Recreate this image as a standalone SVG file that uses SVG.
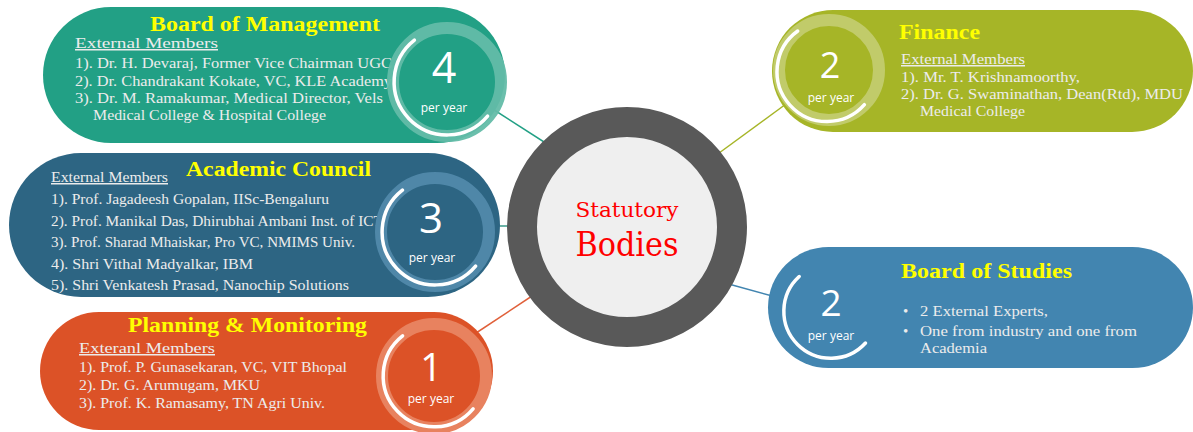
<svg xmlns="http://www.w3.org/2000/svg" width="1193" height="432" viewBox="0 0 1193 432">
<style>
.title{font-family:"Liberation Serif",serif;font-weight:bold;font-size:21px;fill:#ffff00}
.body{font-family:"Liberation Serif",serif;font-size:15px;fill:#ececec}
.ul{text-decoration:underline}
.num{font-family:"Open Sans","Liberation Sans",sans-serif;font-weight:normal;fill:#ffffff;text-anchor:middle}
.py{font-family:"Open Sans","Liberation Sans",sans-serif;font-size:12px;fill:#ffffff;text-anchor:middle}
.arc{fill:none;stroke:#ffffff;stroke-width:3.5;stroke-linecap:round}
.conn{stroke-width:1.5;fill:none}
</style>
<rect width="1193" height="432" fill="#ffffff"/>
<g id="connectors">
<line class="conn" x1="488" y1="106" x2="555" y2="149" stroke="#22a085"/>
<line class="conn" x1="470" y1="226" x2="516" y2="226" stroke="#3a9a8a"/>
<line class="conn" x1="470" y1="337" x2="538" y2="292" stroke="#e0603a"/>
<line class="conn" x1="715" y1="156" x2="786" y2="104" stroke="#a6b527"/>
<line class="conn" x1="725" y1="283" x2="776" y2="297" stroke="#4285b0"/>
</g>
<g id="board-of-management">
<rect x="43" y="7" width="462" height="136" rx="68" fill="#22a085"/>
<text class="title" x="150" y="31" textLength="230" lengthAdjust="spacingAndGlyphs">Board of Management</text>
<text class="body ul" x="75" y="48" font-size="16" textLength="143" lengthAdjust="spacingAndGlyphs">External Members</text>
<text class="body" x="75" y="68" textLength="317" lengthAdjust="spacingAndGlyphs">1). Dr. H. Devaraj, Former Vice Chairman UGC</text>
<text class="body" x="75" y="86" textLength="317" lengthAdjust="spacingAndGlyphs">2). Dr. Chandrakant Kokate, VC, KLE Academy</text>
<text class="body" x="75" y="103" textLength="308" lengthAdjust="spacingAndGlyphs">3). Dr. M. Ramakumar, Medical Director, Vels</text>
<text class="body" x="93" y="120" textLength="233" lengthAdjust="spacingAndGlyphs">Medical College &amp; Hospital College</text>
<circle cx="447" cy="82" r="54" fill="#22a085" stroke="#63bca8" stroke-width="12" stroke-opacity="0.95"/>
<path class="arc" d="M487.6,116.1 A53,53 0 1,1 414.4,40.2"/>
<text class="num" x="444" y="83" font-size="43">4</text>
<text class="py" x="444" y="112">per year</text>
</g>
<g id="academic-council">
<rect x="9" y="153" width="491" height="144" rx="72" fill="#2d6583"/>
<text class="title" x="186" y="176" textLength="185" lengthAdjust="spacingAndGlyphs">Academic Council</text>
<text class="body ul" x="51" y="182" font-size="14" textLength="117" lengthAdjust="spacingAndGlyphs">External Members</text>
<text class="body" x="51" y="204" font-size="14" textLength="278" lengthAdjust="spacingAndGlyphs">1). Prof. Jagadeesh Gopalan, IISc-Bengaluru</text>
<text class="body" x="51" y="226" font-size="14" textLength="332" lengthAdjust="spacingAndGlyphs">2). Prof. Manikal Das, Dhirubhai Ambani Inst. of ICT</text>
<text class="body" x="51" y="247" font-size="14" textLength="304" lengthAdjust="spacingAndGlyphs">3). Prof. Sharad Mhaiskar, Pro VC, NMIMS Univ.</text>
<text class="body" x="51" y="269" font-size="14" textLength="202" lengthAdjust="spacingAndGlyphs">4). Shri Vithal Madyalkar, IBM</text>
<text class="body" x="51" y="290" font-size="14" textLength="298" lengthAdjust="spacingAndGlyphs">5). Shri Venkatesh Prasad, Nanochip Solutions</text>
<circle cx="435" cy="232" r="54" fill="#2d6583" stroke="#4f87a8" stroke-width="12"/>
<path class="arc" d="M475.6,266.1 A53,53 0 1,1 402.4,190.2"/>
<text class="num" x="431" y="233" font-size="42">3</text>
<text class="py" x="432" y="262">per year</text>
</g>
<g id="planning-monitoring">
<rect x="40" y="312" width="453" height="118" rx="59" fill="#dc5227"/>
<text class="title" x="128" y="332" textLength="239" lengthAdjust="spacingAndGlyphs">Planning &amp; Monitoring</text>
<text class="body ul" x="79" y="353" font-size="16" textLength="136" lengthAdjust="spacingAndGlyphs">Exteranl Members</text>
<text class="body" x="79" y="372" font-size="14" textLength="268" lengthAdjust="spacingAndGlyphs">1). Prof. P. Gunasekaran, VC, VIT Bhopal</text>
<text class="body" x="79" y="390" font-size="14" textLength="181" lengthAdjust="spacingAndGlyphs">2). Dr. G. Arumugam, MKU</text>
<text class="body" x="79" y="408" font-size="14" textLength="246" lengthAdjust="spacingAndGlyphs">3). Prof. K. Ramasamy, TN Agri Univ.</text>
<circle cx="434" cy="376" r="52" fill="#dc5227" stroke="#e8825f" stroke-width="12"/>
<path class="arc" d="M473.1,408.8 A51,51 0 1,1 402.6,335.8"/>
<text class="num" x="431" y="381" font-size="38">1</text>
<text class="py" x="431" y="403">per year</text>
</g>
<g id="finance">
<rect x="772" y="10" width="421" height="122" rx="61" fill="#a6b527"/>
<text class="title" x="899" y="39" textLength="81" lengthAdjust="spacingAndGlyphs">Finance</text>
<text class="body ul" x="901" y="64" textLength="124" lengthAdjust="spacingAndGlyphs">External Members</text>
<text class="body" x="901" y="82" textLength="179" lengthAdjust="spacingAndGlyphs">1). Mr. T. Krishnamoorthy,</text>
<text class="body" x="901" y="99" textLength="282" lengthAdjust="spacingAndGlyphs">2). Dr. G. Swaminathan, Dean(Rtd), MDU</text>
<text class="body" x="920" y="116" textLength="105" lengthAdjust="spacingAndGlyphs">Medical College</text>
<circle cx="829" cy="70" r="50" fill="#a6b527" stroke="#c1cb6a" stroke-width="12"/>
<path class="arc" d="M864.4,104.7 A50,50 0 1,1 797.7,31.0"/>
<text class="num" x="830" y="78" font-size="36">2</text>
<text class="py" x="831" y="102">per year</text>
</g>
<g id="board-of-studies">
<rect x="768" y="247" width="425" height="121" rx="60.5" fill="#4285b0"/>
<text class="title" x="901" y="278" textLength="171" lengthAdjust="spacingAndGlyphs">Board of Studies</text>
<text class="body" x="903" y="316">•</text>
<text class="body" x="920" y="316" textLength="128" lengthAdjust="spacingAndGlyphs">2 External Experts,</text>
<text class="body" x="903" y="336">•</text>
<text class="body" x="920" y="336" textLength="217" lengthAdjust="spacingAndGlyphs">One from industry and one from</text>
<text class="body" x="920" y="353" textLength="67" lengthAdjust="spacingAndGlyphs">Academia</text>
<path class="arc" d="M865.5,343.0 A47,47 0 1,1 799.2,276.5"/>
<text class="num" x="831" y="316" font-size="37">2</text>
<text class="py" x="831" y="340">per year</text>
</g>
<g id="statutory-bodies">
<circle cx="627" cy="227" r="105" fill="#efefef" stroke="#595959" stroke-width="30"/>
<text x="627" y="217" font-family="'DejaVu Serif','Liberation Serif',serif" font-size="21" fill="#ff0000" text-anchor="middle" textLength="103" lengthAdjust="spacingAndGlyphs">Statutory</text>
<text x="627" y="256" font-family="'DejaVu Serif','Liberation Serif',serif" font-size="34" fill="#ff0000" text-anchor="middle" textLength="103" lengthAdjust="spacingAndGlyphs">Bodies</text>
</g>
</svg>
